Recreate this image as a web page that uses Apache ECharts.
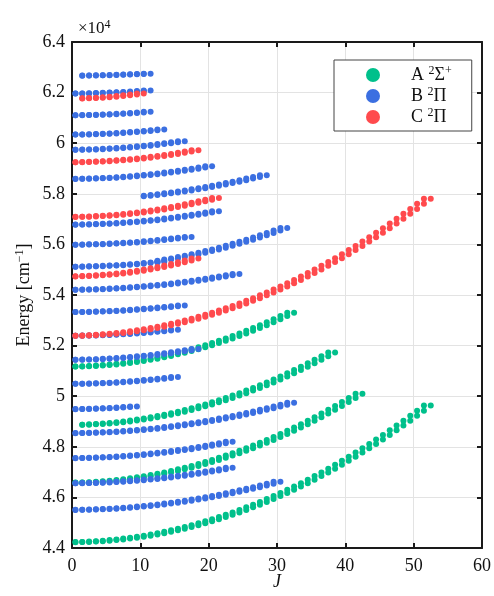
<!DOCTYPE html>
<html>
<head>
<meta charset="utf-8">
<script src="https://cdn.jsdelivr.net/npm/echarts@6/dist/echarts.min.js"></script>
<style>
  html, body { margin: 0; padding: 0; background: #fff; }
  #chart { width: 494px; height: 596px; }
</style>
</head>
<body>
<div id="chart"></div>
<script>
// Rovibrational term energies (cm^-1). Each band: [first J, energies at J, J+1, J+2, ...]
const bandsA = [
  [0.5, [44230,44234,44242,44254,44269,44289,44312,44340,44371,44406,44446,44489,44536,44587,44642,44700,44763,44830,44900,44975,45053,45136,45222,45312,45406,45504,45606,45712,45822,45935,46053,46174,46300,46429,46562,46700,46841,46986,47135,47288,47444,47605,47770,47938,48111,48287,48468,48652,48840,49032,49228,49428,49632]],
  [0.5, [46580,46584,46592,46603,46619,46638,46662,46689,46720,46755,46794,46837,46883,46934,46988,47047,47109,47175,47245,47319,47397,47479,47564,47654,47747,47844,47945,48050,48159,48272,48389,48509,48634,48762,48895,49031,49171,49315,49463,49614,49770,49929,50093]],
  [1.5, [48868,48876,48887,48903,48922,48945,48972,49003,49038,49077,49119,49166,49216,49270,49328,49390,49456,49525,49599,49676,49757,49842,49931,50024,50121,50221,50326,50434,50546,50662,50782,50905,51033,51164,51300,51439,51582,51729]],
  [0.5, [51170,51174,51182,51194,51210,51230,51255,51283,51315,51351,51392,51436,51484,51537,51593,51654,51718,51787,51859,51936,52017,52101,52190,52283,52380,52480,52585,52694,52807,52924,53045,53170,53299]]
];

const bandsB = [
  [0.5, [45506,45508,45513,45520,45530,45542,45556,45573,45592,45613,45637,45663,45692,45723,45756,45792,45830,45870,45913,45959,46006,46056,46109,46163,46221,46280,46342,46406,46473,46542,46614]],
  [0.5, [46560,46562,46567,46573,46582,46593,46606,46622,46639,46659,46681,46705,46732,46760,46791,46824,46859,46897,46936,46978,47022,47068,47117,47167]],
  [0.5, [47551,47553,47558,47565,47574,47586,47600,47616,47635,47656,47680,47705,47733,47764,47796,47831,47869,47908,47951,47995,48042,48091,48142,48196]],
  [0.5, [48540,48542,48547,48554,48563,48574,48588,48604,48622,48642,48665,48690,48717,48747,48778,48812,48849,48887,48928,48971,49017,49064,49114,49167,49221,49278,49337,49398,49462,49528,49596,49666,49739]],
  [0.5, [49489,49491,49496,49503,49512,49523,49537,49553,49571,49592]],
  [0.5, [50490,50492,50497,50503,50512,50523,50536,50552,50570,50589,50611,50636,50662,50691,50722,50755]],
  [0.5, [51440,51442,51447,51455,51465,51477,51492,51509,51529,51551,51576,51603,51633,51665,51700,51737,51776,51818,51863]],
  [0.5, [52390,52392,52396,52402,52410,52420,52432,52446,52462,52480,52500,52522,52546,52572,52600,52630]],
  [0.5, [53327,53329,53333,53339,53346,53356,53367,53381,53396,53413,53433,53454,53477,53502,53529,53557,53588]],
  [0.5, [54209,54211,54215,54221,54230,54240,54253,54267,54284,54302,54323,54346,54371,54397,54426,54457,54491,54526,54563,54602,54644,54687,54733,54780,54830]],
  [0.5, [55119,55121,55126,55132,55141,55152,55164,55180,55197,55216,55238,55262,55288,55316]],
  [12.5, [55312,55354,55399,55447,55498,55552,55610,55671,55735,55802,55872,55946,56023,56103,56186,56272,56362,56455,56551,56650]],
  [0.5, [55989,55991,55995,56001,56009,56019,56031,56045,56061,56079,56099,56121,56145,56171,56199,56229,56261,56295]],
  [0.5, [56780,56782,56787,56794,56803,56814,56828,56844,56862,56882,56905,56930,56958,56987,57019,57053,57090,57128,57169,57213,57258,57306]],
  [10.5, [57900,57926,57954,57985,58018,58054,58092,58132,58175,58220,58267,58317,58369,58423,58480,58539,58601,58665,58731]],
  [0.5, [58588,58590,58595,58602,58612,58624,58638,58655,58674,58695,58719,58745,58773,58804,58838,58873,58911,58952,58994,59039,59087]],
  [0.5, [59740,59742,59747,59755,59765,59777,59792,59809,59829,59851,59876,59903,59933,59965,59999,60036,60076]],
  [0.5, [60341,60343,60348,60354,60363,60373,60386,60402,60419,60438,60460,60484,60510,60538]],
  [0.5, [61104,61106,61110,61116,61125,61135,61147,61162,61178,61197,61217,61240]],
  [0.5, [61963,61965,61968,61974,61981,61990,62000,62013,62027,62043,62061,62081]],
  [1.5, [62670,62672,62676,62681,62687,62695,62703,62713,62724,62736,62750]]
];

const bandsC = [
  [0.5, [52390,52394,52402,52414,52429,52449,52473,52500,52532,52567,52606,52650,52697,52748,52803,52862,52925,52992,53062,53137,53216,53298,53385,53475,53570,53668,53770,53876,53986,54100,54218,54340,54466,54596,54730,54867,55009,55154,55304,55457,55614,55775,55941,56110,56283,56460,56640,56825,57014,57207,57403,57604,57808]],
  [0.5, [54735,54739,54747,54760,54776,54797,54822,54850,54883,54921,54962,55007,55057,55110,55168,55230,55296,55366,55440]],
  [0.5, [57085,57088,57095,57105,57118,57134,57153,57176,57202,57232,57264,57300,57339,57381,57427,57476,57528,57583,57642,57704,57769,57837]],
  [0.5, [59245,59248,59253,59262,59273,59287,59303,59323,59345,59370,59398,59428,59462,59498,59537,59578,59623,59670,59720]],
  [1.5, [61765,61772,61783,61798,61816,61838,61864,61893,61926,61963]]
];

const stateNames = ['A', 'B', 'C'];
const stateLabels = ['A {sup|2}Σ{sup|+}', 'B {sup|2}Π', 'C {sup|2}Π'];
const stateColors = ['#00c08b', '#3b6fe1', '#ff4a4d'];

// Each level is split into two spin components, plotted at J and J - 1.
function toPoints(bands) {
  const pts = [];
  bands.forEach(([j0, energies]) => {
    energies.forEach((e, k) => {
      pts.push([j0 + k, e]);
      if (k > 0) pts.push([j0 + k - 1, e]);
    });
  });
  return pts;
}

const serif = 'Liberation Serif';
const supStyle = { fontFamily: serif, fontSize: 12, verticalAlign: 'bottom', padding: [0, 0, 8, 0] };

const chart = echarts.init(document.getElementById('chart'), null, { renderer: 'canvas' });

const axisCommon = {
  axisLine: { show: true, onZero: false, lineStyle: { color: '#1a1a1a', width: 2 } },
  axisTick: { show: true, inside: true, length: 5, lineStyle: { color: '#1a1a1a', width: 2 } }
};

chart.setOption({
  animation: false,
  backgroundColor: '#fff',
  grid: { left: 72, right: 12, top: 42, bottom: 48, containLabel: false, outerBoundsMode: 'none' },
  xAxis: [
    Object.assign({
      type: 'value', min: 0, max: 60, interval: 10, position: 'bottom',
      name: 'J', nameLocation: 'middle', nameGap: 25, nameMoveOverlap: false,
      nameTextStyle: { fontFamily: serif, fontStyle: 'italic', fontSize: 18, color: '#111' },
      axisLabel: { fontFamily: serif, fontSize: 18, color: '#111', margin: 9 },
      splitLine: { show: true, lineStyle: { color: '#e3e3e3', width: 1 } }
    }, axisCommon),
    Object.assign({
      type: 'value', min: 0, max: 60, interval: 10, position: 'top',
      axisLabel: { show: false }, splitLine: { show: false }
    }, axisCommon)
  ],
  yAxis: [
    Object.assign({
      type: 'value', min: 44000, max: 64000, interval: 2000, position: 'left',
      name: 'Energy [cm{sup|−1}]', nameLocation: 'middle', nameGap: 38, nameRotate: 90,
      nameMoveOverlap: false,
      nameTextStyle: { fontFamily: serif, fontSize: 18, color: '#111', rich: { sup: supStyle } },
      axisLabel: {
        fontFamily: serif, fontSize: 18, color: '#111', margin: 7,
        formatter: v => String(+(v / 10000).toFixed(1))
      },
      splitLine: { show: true, lineStyle: { color: '#e3e3e3', width: 1 } }
    }, axisCommon),
    Object.assign({
      type: 'value', min: 44000, max: 64000, interval: 2000, position: 'right',
      axisLabel: { show: false }, splitLine: { show: false }
    }, axisCommon)
  ],
  legend: {
    orient: 'vertical', left: 334, top: 60,
    padding: [5, 20, 5, 32], itemWidth: 14, itemHeight: 14, itemGap: 2,
    borderColor: '#444', borderWidth: 1, backgroundColor: '#fff',
    icon: 'circle',
    data: stateNames,
    formatter: name => stateLabels[stateNames.indexOf(name)],
    textStyle: {
      fontFamily: serif, fontSize: 18, color: '#111', padding: [0, 0, 0, 26],
      rich: { sup: supStyle }
    }
  },
  graphic: [{
    type: 'text', left: 78, top: 19,
    style: {
      text: '×10{sup|4}', fontFamily: serif, fontSize: 17, fill: '#111',
      rich: { sup: { fontFamily: serif, fontSize: 12, verticalAlign: 'bottom', padding: [0, 0, 7, 0] } }
    }
  }],
  series: [bandsA, bandsB, bandsC].map((bands, i) => ({
    name: stateNames[i],
    type: 'scatter',
    xAxisIndex: 0, yAxisIndex: 0,
    symbol: 'circle', symbolSize: 6,
    itemStyle: { color: stateColors[i], opacity: 1 },
    emphasis: { disabled: true },
    data: toPoints(bands),
    z: 2 + i
  }))
});
</script>
</body>
</html>
